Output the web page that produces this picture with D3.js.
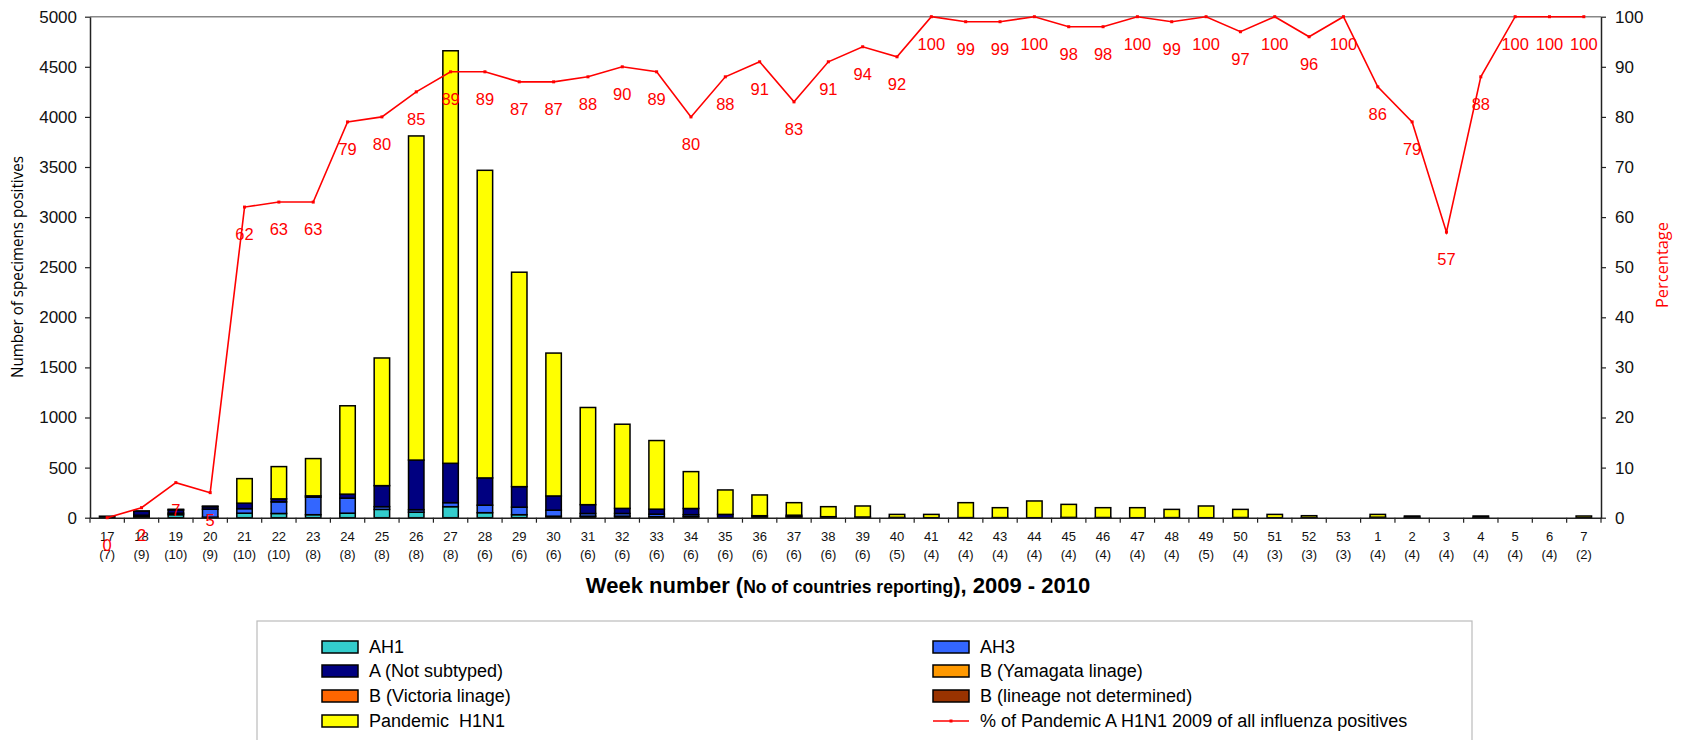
<!DOCTYPE html>
<html><head><meta charset="utf-8">
<script src="https://cdn.jsdelivr.net/npm/d3@7"></script>
<style>
body{margin:0;background:#fff;}
svg{display:block;font-family:'Liberation Sans',Arial,sans-serif;}
</style></head><body>
<svg id="chart" width="1685" height="740"></svg>
<script>
// ---------------- data ----------------
const weeks = ["17","18","19","20","21","22","23","24","25","26","27","28","29","30","31","32","33","34","35","36","37","38","39","40","41","42","43","44","45","46","47","48","49","50","51","52","53","1","2","3","4","5","6","7"];
const countries = [7,9,10,9,10,10,8,8,8,8,8,6,6,6,6,6,6,6,6,6,6,6,6,5,4,4,4,4,4,4,4,4,5,4,3,3,3,4,4,4,4,4,4,2];
const ah1      = [0,10,30,5,45,42,30,45,83,55,110,50,30,15,15,15,10,10,0,0,5,0,0,0,0,0,0,0,0,0,0,0,0,0,0,0,0,0,0,0,0,0,0,0];
const ah3      = [0,15,15,80,45,116,175,150,27,25,40,75,75,60,27,27,25,20,0,5,8,0,0,0,0,0,0,0,0,0,0,0,0,0,0,0,0,0,0,0,0,0,0,0];
const aNotSub  = [15,40,33,25,55,30,13,40,210,495,393,272,205,142,88,51,50,62,33,15,12,10,7,3,0,1,1,0,3,2,0,1,0,2,0,1,0,5,4,0,2,0,0,0];
const bYamagata= [0,0,0,0,0,0,0,0,0,0,0,0,0,0,0,0,0,0,0,0,0,0,0,0,0,0,0,0,0,0,0,0,0,0,0,0,0,0,0,0,0,0,0,0];
const bVictoria= [0,0,0,0,0,0,0,0,0,0,0,0,0,0,0,0,0,0,0,0,0,0,0,0,0,0,0,0,0,0,0,0,0,0,0,0,0,0,0,0,0,0,0,0];
const bNotDet  = [0,0,0,0,0,0,0,0,0,0,0,0,0,0,0,0,0,0,0,0,0,0,0,0,0,0,0,0,0,0,0,0,0,0,0,0,0,0,0,0,0,0,0,0];
const pandemic = [0,2,6,6,245,322,372,882,1274,3235,4117,3070,2140,1426,970,840,685,368,244,207,125,100,110,30,33,149,99,167,130,98,100,82,117,81,33,19,0,28,13,0,15,0,0,17];
const pct      = [0,2,7,5,62,63,63,79,80,85,89,89,87,87,88,90,89,80,88,91,83,91,94,92,100,99,99,100,98,98,100,99,100,97,100,96,100,86,79,57,88,100,100,100];
const leftTicks  = [0,500,1000,1500,2000,2500,3000,3500,4000,4500,5000];
const rightTicks = [0,10,20,30,40,50,60,70,80,90,100];
const seriesNames = ["AH1","AH3","A (Not subtyped)","B (Yamagata linage)","B (Victoria linage)","B (lineage not determined)","Pandemic  H1N1"];
const lineName = "% of Pandemic A H1N1 2009 of all influenza positives";

// ---------------- styles ----------------
const colors = ["#33CCCC","#3366FF","#000080","#FF9900","#FF6600","#993300","#FFFF00"];
const X0 = 90, X1 = 1601, Y0 = 16.7, Y1 = 517.7;

const svg = d3.select("#chart");
const seriesArrays = [ah1, ah3, aNotSub, bYamagata, bVictoria, bNotDet, pandemic];
const rows = weeks.map((w, i) => {
  const r = {week: w};
  seriesNames.forEach((k, j) => r[k] = seriesArrays[j][i]);
  return r;
});

const x = d3.scaleBand().domain(weeks).range([X0, X1]).paddingInner(0.55).paddingOuter(0.275);
const y = d3.scaleLinear().domain([0, 5000]).range([Y1, Y0]);
const yR = d3.scaleLinear().domain([0, 100]).range([Y1, Y0]);

// top border of plot area
svg.append("line").attr("x1", X0).attr("x2", X1).attr("y1", Y0).attr("y2", Y0)
  .attr("stroke", "#888").attr("stroke-width", 1.5);

// stacked bars
const stack = d3.stack().keys(seriesNames)(rows);
const layers = svg.append("g").selectAll("g").data(stack).join("g")
  .attr("fill", (d, i) => colors[i]);
layers.selectAll("rect")
  .data(d => d.filter(s => s[1] - s[0] > 0))
  .join("rect")
  .attr("x", d => x(d.data.week))
  .attr("width", x.bandwidth())
  .attr("y", d => y(d[1]))
  .attr("height", d => y(d[0]) - y(d[1]))
  .attr("stroke", "#000").attr("stroke-width", 1.5);

// left axis
const gl = svg.append("g").attr("transform", `translate(${X0},0)`)
  .call(d3.axisLeft(y).tickValues(leftTicks).tickFormat(d3.format("d")).tickSize(5).tickSizeOuter(0).tickPadding(8));
gl.select(".domain").attr("stroke", "#222").attr("stroke-width", 1.5);
gl.selectAll(".tick line").attr("stroke", "#222").attr("stroke-width", 1.2);
gl.selectAll(".tick text").attr("font-size", 17).attr("fill", "#111").attr("font-family", "'Liberation Sans',Arial,sans-serif");

// right axis
const gr = svg.append("g").attr("transform", `translate(${X1},0)`)
  .call(d3.axisRight(yR).tickValues(rightTicks).tickFormat(d3.format("d")).tickSize(5).tickSizeOuter(0).tickPadding(9));
gr.select(".domain").attr("stroke", "#222").attr("stroke-width", 1.5);
gr.selectAll(".tick line").attr("stroke", "#222").attr("stroke-width", 1.2);
gr.selectAll(".tick text").attr("font-size", 17).attr("fill", "#111").attr("font-family", "'Liberation Sans',Arial,sans-serif");

// bottom axis
const gb = svg.append("g").attr("transform", `translate(0,${Y1})`)
  .call(d3.axisBottom(x).tickSize(0).tickSizeOuter(0).tickPadding(0));
gb.select(".domain").attr("stroke", "#222").attr("stroke-width", 1.5);
gb.selectAll(".tick text").each(function(w) {
  const i = weeks.indexOf(w);
  const t = d3.select(this).text(null).attr("font-size", 13).attr("fill", "#111")
    .attr("font-family", "'Liberation Sans',Arial,sans-serif").attr("y", 0).attr("dy", null);
  t.append("tspan").attr("x", 0).attr("y", 23).text(w);
  t.append("tspan").attr("x", 0).attr("y", 41).text("(" + countries[i] + ")");
});
// category boundary ticks
svg.append("g").selectAll("line").data(d3.range(weeks.length + 1)).join("line")
  .attr("x1", i => X0 + i * x.step()).attr("x2", i => X0 + i * x.step())
  .attr("y1", Y1).attr("y2", Y1 + 5)
  .attr("stroke", "#222").attr("stroke-width", 1.2);

// percentage line
const cx = w => x(w) + x.bandwidth() / 2;
svg.append("path").datum(weeks)
  .attr("d", d3.line().x(w => cx(w)).y((w, i) => yR(pct[i])))
  .attr("fill", "none").attr("stroke", "#FF0000").attr("stroke-width", 1.6);
svg.append("g").selectAll("rect").data(weeks).join("rect")
  .attr("x", w => cx(w) - 1.5).attr("y", (w, i) => yR(pct[i]) - 1.5)
  .attr("width", 3).attr("height", 3).attr("fill", "#FF0000");
svg.append("g").selectAll("text").data(weeks).join("text")
  .attr("x", w => cx(w)).attr("y", (w, i) => yR(pct[i]) + 33)
  .attr("text-anchor", "middle").attr("font-size", 16.5).attr("fill", "#FF0000")
  .text((w, i) => pct[i]);

// axis titles
svg.append("text").attr("transform", "translate(23,267) rotate(-90)")
  .attr("text-anchor", "middle").attr("font-size", 16).attr("fill", "#000")
  .attr("font-family", "'Open Sans','DejaVu Sans',sans-serif")
  .attr("textLength", 222).attr("lengthAdjust", "spacingAndGlyphs")
  .text("Number of specimens positives");
svg.append("text").attr("transform", "translate(1668,265) rotate(-90)")
  .attr("text-anchor", "middle").attr("font-size", 17).attr("fill", "#FF0000")
  .attr("font-family", "'Open Sans','DejaVu Sans',sans-serif")
  .attr("textLength", 86).attr("lengthAdjust", "spacingAndGlyphs")
  .text("Percentage");
const xt = svg.append("text").attr("x", 838).attr("y", 593).attr("text-anchor", "middle")
  .attr("font-weight", "bold").attr("fill", "#000").attr("font-size", 22);
xt.append("tspan").text("Week number (");
xt.append("tspan").attr("font-size", 17.5).text("No of countries reporting");
xt.append("tspan").text("), 2009 - 2010");

// legend
const lg = svg.append("g");
lg.append("rect").attr("x", 257).attr("y", 621).attr("width", 1215).attr("height", 140)
  .attr("fill", "#fff").attr("stroke", "#bbb").attr("stroke-width", 1.2);
const items = seriesNames.map((n, i) => ({name: n, color: colors[i], type: "bar"}))
  .concat([{name: lineName, type: "line"}]);
const colX = [322, 933], rowY = [647, 671, 696, 721];
items.forEach((it, i) => {
  const cxL = colX[i % 2], cy = rowY[Math.floor(i / 2)];
  if (it.type === "bar") {
    lg.append("rect").attr("x", cxL).attr("y", cy - 6).attr("width", 36).attr("height", 12)
      .attr("fill", it.color).attr("stroke", "#000").attr("stroke-width", 1.5);
  } else {
    lg.append("line").attr("x1", cxL).attr("x2", cxL + 36).attr("y1", cy).attr("y2", cy)
      .attr("stroke", "#FF0000").attr("stroke-width", 1.6);
    lg.append("rect").attr("x", cxL + 16.5).attr("y", cy - 1.5).attr("width", 3).attr("height", 3).attr("fill", "#FF0000");
  }
  lg.append("text").attr("x", cxL + 47).attr("y", cy).attr("dy", "0.35em")
    .style("white-space", "pre")
    .attr("font-size", 18).attr("fill", "#000").text(it.name);
});
</script>
</body></html>
